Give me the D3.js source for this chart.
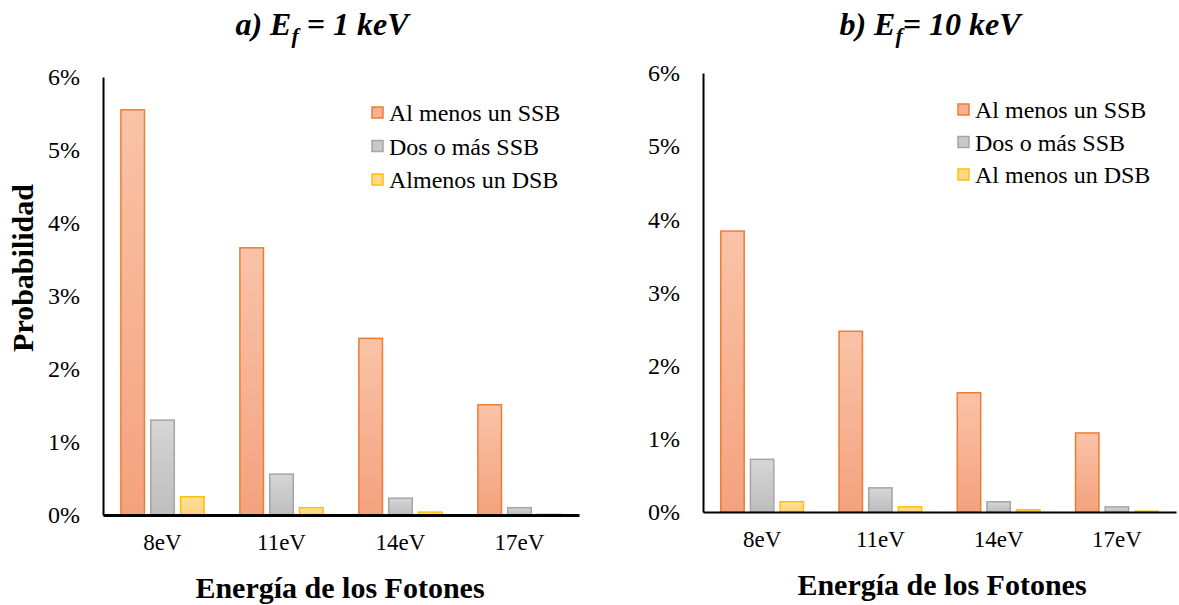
<!DOCTYPE html>
<html>
<head>
<meta charset="utf-8">
<script src="https://cdn.jsdelivr.net/npm/d3@7"></script>
<style>
  body { margin: 0; background: #fff; }
</style>
</head>
<body>
<svg id="chart" width="1179" height="605"></svg>
<script>
// categories and series
let categories = ["8eV", "11eV", "14eV", "17eV"];
let seriesA = ["Al menos un SSB", "Dos o más SSB", "Almenos un DSB"];
let seriesB = ["Al menos un SSB", "Dos o más SSB", "Al menos un DSB"];
let yTicks = [0, 0.01, 0.02, 0.03, 0.04, 0.05, 0.06];

// panel a) Ef = 1 keV
let ssbA  = [0.0555, 0.0366, 0.0242, 0.0151];
let dssbA = [0.0130, 0.0056, 0.0023, 0.0010];
let dsbA  = [0.0025, 0.0010, 0.0004, 0.0001];

// panel b) Ef = 10 keV
let ssbB  = [0.0384, 0.0247, 0.0163, 0.0108];
let dssbB = [0.0072, 0.0033, 0.0014, 0.0007];
let dsbB  = [0.0014, 0.0007, 0.0003, 0.0001];

let FONT = "'Liberation Serif', 'Times New Roman', serif";
let chart = d3.select("#chart").attr("font-family", FONT);

// gradients
let defs = chart.append("defs");
function grad(id, top, bottom) {
    let g = defs.append("linearGradient").attr("id", id)
        .attr("x1", 0).attr("y1", 0).attr("x2", 0).attr("y2", 1);
    g.append("stop").attr("offset", "0%").attr("stop-color", top);
    g.append("stop").attr("offset", "100%").attr("stop-color", bottom);
}
grad("gO", "#f9c3a8", "#f4a27e");
grad("gG", "#d6d6d6", "#bdbdbd");
grad("gY", "#ffe09c", "#ffd47a");

let fills   = ["url(#gO)", "url(#gG)", "url(#gY)"];
let strokes = ["#ed7d31", "#a5a5a5", "#ffc000"];
let legendFills = ["#f6b093", "#c9c9c9", "#ffd98a"];

function drawPanel(p) {
    let x = d3.scaleBand()
        .domain(categories)
        .range([p.left, p.right]);

    let y = d3.scaleLinear()
        .domain([0, 0.06])
        .range([p.bottom, p.top]);

    let inner = d3.scaleBand()
        .domain([0, 1, 2])
        .range([0, x.bandwidth()])
        .paddingInner(0.21)
        .paddingOuter(0.6);

    let values = [p.ssb, p.dssb, p.dsb];
    let rows = [];
    values.forEach(function (vals, s) {
        vals.forEach(function (v, i) {
            rows.push({cat: categories[i], s: s, v: v});
        });
    });

    chart.append("g").selectAll("rect")
        .data(rows).enter()
        .append("rect")
            .attr("x", function (d) { return x(d.cat) + inner(d.s); })
            .attr("width", inner.bandwidth())
            .attr("y", function (d) { return y(d.v); })
            .attr("height", function (d) { return p.bottom - y(d.v); })
            .attr("fill", function (d) { return fills[d.s]; })
            .attr("stroke", function (d) { return strokes[d.s]; })
            .attr("stroke-width", 1.5);

    // y axis
    let yAxis = d3.axisLeft(y)
        .tickValues(yTicks)
        .tickFormat(d3.format(".0%"))
        .tickSize(0)
        .tickPadding(p.tickPad);
    let yg = chart.append("g")
        .attr("transform", "translate(" + p.left + ",0)")
        .call(yAxis)
        .attr("font-family", FONT);
    yg.select(".domain").attr("stroke", "#000").attr("stroke-width", 2);
    yg.selectAll("text").attr("font-size", 24).attr("fill", "#000");

    // x axis
    let xAxis = d3.axisBottom(x).tickSize(0).tickPadding(19);
    let xg = chart.append("g")
        .attr("transform", "translate(0," + p.bottom + ")")
        .call(xAxis)
        .attr("font-family", FONT);
    xg.select(".domain").attr("stroke", "#000").attr("stroke-width", p.xw);
    xg.selectAll("text").attr("font-size", 23).attr("fill", "#000");

    // title
    let t = chart.append("text")
        .attr("x", p.titleX).attr("y", 35)
        .attr("text-anchor", "middle")
        .attr("font-size", 32).attr("font-weight", "bold").attr("font-style", "italic");
    t.append("tspan").text(p.titleA);
    t.append("tspan").text("f").attr("font-size", 22).attr("dy", 8);
    t.append("tspan").text(p.titleB).attr("dy", -8);

    // x title
    chart.append("text")
        .text("Energía de los Fotones")
        .attr("x", p.xTitleX).attr("y", p.xTitleY)
        .attr("text-anchor", "middle")
        .attr("font-size", 30).attr("font-weight", "bold");

    // legend
    let lg = chart.append("g");
    p.series.forEach(function (name, i) {
        let yy = p.legY + i * p.legStep;
        lg.append("rect")
            .attr("x", p.legX).attr("y", yy - 6)
            .attr("width", 11).attr("height", 11)
            .attr("fill", legendFills[i])
            .attr("stroke", strokes[i]).attr("stroke-width", 1.5);
        lg.append("text")
            .text(name)
            .attr("x", p.legX + 17).attr("y", yy + 8)
            .attr("font-size", 24);
    });
}

drawPanel({
    left: 103, right: 579, top: 77, bottom: 515, tickPad: 23, xw: 3,
    ssb: ssbA, dssb: dssbA, dsb: dsbA, series: seriesA,
    titleX: 322, titleA: "a) E", titleB: " = 1 keV",
    xTitleX: 340, xTitleY: 598,
    legX: 372, legY: 113, legStep: 33.5
});

drawPanel({
    left: 703, right: 1176, top: 73, bottom: 512, tickPad: 23, xw: 2,
    ssb: ssbB, dssb: dssbB, dsb: dsbB, series: seriesB,
    titleX: 930, titleA: "b) E", titleB: "= 10 keV",
    xTitleX: 942, xTitleY: 595,
    legX: 958, legY: 110, legStep: 32.5
});

// y title (left panel only)
chart.append("text")
    .text("Probabilidad")
    .attr("transform", "translate(33,268) rotate(-90)")
    .attr("text-anchor", "middle")
    .attr("font-size", 30).attr("font-weight", "bold");
</script>
</body>
</html>
